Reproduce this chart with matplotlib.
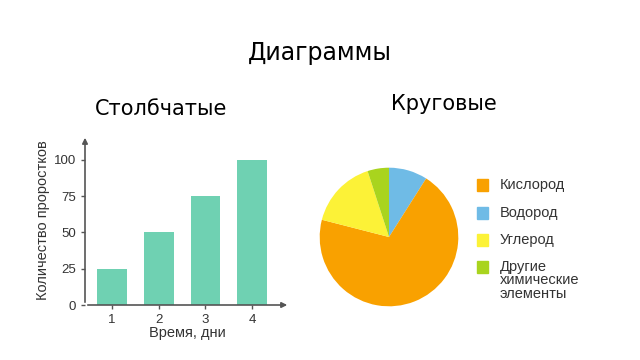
import matplotlib

matplotlib.use("Agg")
import matplotlib.pyplot as plt  # noqa: E402
from matplotlib.patches import Rectangle  # noqa: E402

# bar chart data
days = [1, 2, 3, 4]
sprouts = [25, 50, 75, 100]
y_ticks = [0, 25, 50, 75, 100]

# pie data (clockwise from the top)
pie_labels = ["Водород", "Кислород", "Углерод", "Другие\nхимические\nэлементы"]
pie_shares = [9, 70, 16, 5]
pie_colors = ["#6fbbe6", "#f9a100", "#fcf237", "#a9d41e"]
legend_order = [1, 0, 2, 3]

BAR_COLOR = "#6fd1b2"
AXIS = "#555555"
TXT = "#333333"

W, H = 640, 360
fig = plt.figure(figsize=(6.4, 3.6), dpi=100)


def fx(px):
    return px / W


def fy(py):
    return 1 - py / H


fig.text(fx(320), fy(53), "Диаграммы", ha="center", va="center", fontsize=17, family="DejaVu Sans")
fig.text(fx(161), fy(109), "Столбчатые", ha="center", va="center", fontsize=15, family="DejaVu Sans")
fig.text(fx(444), fy(104), "Круговые", ha="center", va="center", fontsize=15, family="DejaVu Sans")

# --- bar chart ---
ax = fig.add_axes([fx(85), fy(305), fx(290 - 85), (305 - 135) / H])
ax.bar(days, sprouts, width=0.64, color=BAR_COLOR)
ax.set_xlim(0.42, 4.81)
ax.set_ylim(0, 117.2)
for s in ax.spines.values():
    s.set_visible(False)
ax.annotate("", xy=(1, 0), xytext=(0, 0), xycoords="axes fraction",
            arrowprops=dict(arrowstyle="-|>", color=AXIS, lw=1.2, mutation_scale=8))
ax.annotate("", xy=(0, 1), xytext=(0, 0), xycoords="axes fraction",
            arrowprops=dict(arrowstyle="-|>", color=AXIS, lw=1.2, mutation_scale=8))
ax.set_xticks(days)
ax.set_yticks(y_ticks)
ax.tick_params(colors=AXIS, labelcolor=TXT, labelsize=9.5, length=3, width=1)
for lbl in ax.get_xticklabels() + ax.get_yticklabels():
    lbl.set_family("Liberation Sans")
ax.set_xlabel("Время, дни", fontsize=10.5, color=TXT, family="Liberation Sans", labelpad=0)
ax.set_ylabel("Количество проростков", fontsize=10.5, color=TXT, family="Liberation Sans", labelpad=3)

# --- pie chart ---
pax = fig.add_axes([fx(389 - 70), fy(237 + 70), fx(140), 140 / H])
pax.pie(pie_shares, colors=pie_colors, startangle=90, counterclock=False, radius=1)
pax.set_xlim(-1.01, 1.01)
pax.set_ylim(-1.01, 1.01)
pax.set_aspect("equal")

# legend, drawn by hand so the square sits on the first line
legend_y = [185, 213, 240, 267]
for k, i in enumerate(legend_order):
    y = legend_y[k]
    fig.patches.append(Rectangle((fx(477), fy(y + 6)), fx(11), 12 / H,
                                 transform=fig.transFigure, color=pie_colors[i]))
    multi = "\n" in pie_labels[i]
    fig.text(fx(500), fy(y - 7) if multi else fy(y), pie_labels[i], ha="left",
             va="top" if multi else "center",
             fontsize=10.5, color=TXT, family="Liberation Sans", linespacing=0.95)

fig.savefig("out.png", dpi=100)
